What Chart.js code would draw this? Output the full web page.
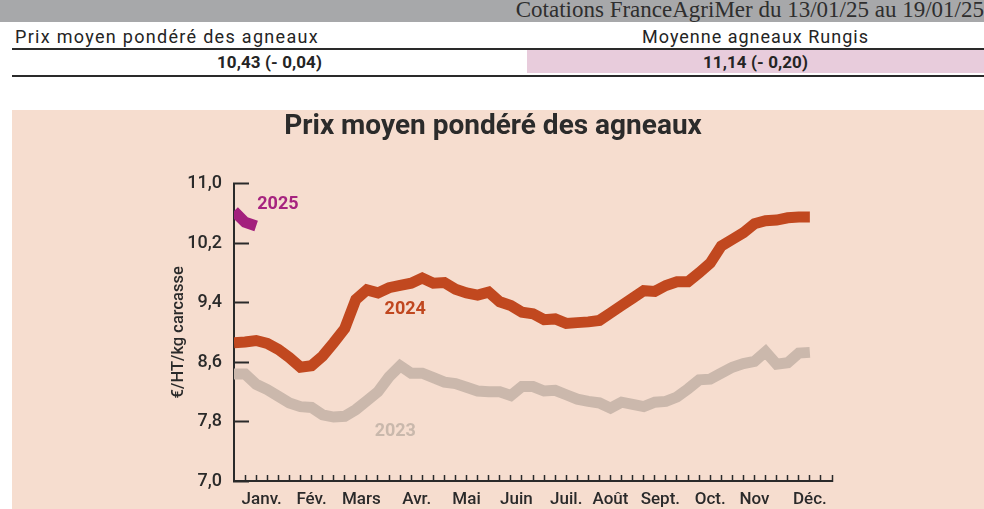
<!DOCTYPE html>
<html lang="fr">
<head>
<meta charset="utf-8">
<title>Prix moyen pondéré des agneaux</title>
<script src="https://cdn.jsdelivr.net/npm/chart.js@4.4.1/dist/chart.umd.min.js"></script>
<style>
  body { margin: 0; width: 984px; height: 509px; position: relative; overflow: hidden; background: #fff; font-family: Roboto, sans-serif; color: #242424; }
  .abs { position: absolute; }
  #bar { left: 0; top: 0; width: 984px; height: 22px; background: #a7a8aa; }
  #bar span { position: absolute; right: 0; top: -2px; font-family: "Liberation Serif", serif; font-size: 23px; line-height: 24px; color: #2e2e2e; white-space: nowrap; }
  .row { font-size: 18px; letter-spacing: 1.3px; white-space: nowrap; line-height: 22px; }
  .row.bold { font-weight: bold; letter-spacing: 0.1px; font-size: 17px; }
  .rule { left: 12px; width: 972px; background: #2a2a2a; }
  #panel { left: 12px; top: 110px; width: 972px; height: 399px; background: #f6ddcf; }
</style>
</head>
<body>
<div id="bar" class="abs"><span>Cotations FranceAgriMer du 13/01/25 au 19/01/25</span></div>
<div class="abs row" style="left:15px; top:26px;">Prix moyen pondéré des agneaux</div>
<div class="abs row" style="left:527px; width:457px; top:26px; text-align:center; letter-spacing:1px;">Moyenne agneaux Rungis</div>
<div class="abs rule" style="top:48px; height:1.5px;"></div>
<div class="abs" style="left:527px; top:50px; width:457px; height:23px; background:#e8ccdc;"></div>
<div class="abs row bold" style="left:12px; width:515px; top:51px; text-align:center;">10,43 (- 0,04)</div>
<div class="abs row bold" style="left:527px; width:457px; top:51px; text-align:center;">11,14 (- 0,20)</div>
<div class="abs rule" style="top:75px; height:2px;"></div>
<div id="panel" class="abs"><canvas id="graphCanvas" width="972" height="399"></canvas></div>

<script>
// Prix hebdomadaires (€/HT/kg carcasse), semaine 1 = index 0
const prix2023 = [8.44, 8.44, 8.30, 8.23, 8.14, 8.05, 8.00, 7.99, 7.89, 7.86, 7.87, 7.96, 8.08, 8.20,
  8.40, 8.55, 8.45, 8.45, 8.39, 8.33, 8.31, 8.26, 8.21, 8.20, 8.20, 8.15, 8.27, 8.27, 8.21, 8.22,
  8.16, 8.10, 8.07, 8.05, 7.98, 8.06, 8.03, 8.00, 8.06, 8.07, 8.13, 8.24, 8.36, 8.37, 8.45, 8.53,
  8.58, 8.61, 8.74, 8.57, 8.59, 8.72, 8.73];
const prix2024 = [8.86, 8.87, 8.89, 8.85, 8.77, 8.66, 8.53, 8.55, 8.68, 8.86, 9.05, 9.44, 9.57, 9.53,
  9.60, 9.63, 9.66, 9.73, 9.66, 9.67, 9.58, 9.53, 9.50, 9.54, 9.41, 9.36, 9.27, 9.25, 9.17, 9.18,
  9.12, 9.13, 9.14, 9.16, 9.26, 9.36, 9.46, 9.56, 9.55, 9.63, 9.68, 9.68, 9.80, 9.93, 10.16, 10.25,
  10.34, 10.46, 10.50, 10.51, 10.54, 10.55, 10.55];
const prix2025 = [10.63, 10.48, 10.43];

const moisLabels = ['Janv.', 'Fév.', 'Mars', 'Avr.', 'Mai', 'Juin', 'Juil.', 'Août', 'Sept.', 'Oct.', 'Nov', 'Déc.'];
const moisSemaine = [2.5, 7, 11.5, 16.5, 21, 25.5, 30, 34, 38.5, 43, 47, 52];
const yTicks = [7.0, 7.8, 8.6, 9.4, 10.2, 11.0];
const nbSemaines = 54;

// étiquettes des années, en unités du graphique (semaine, prix)
const anneeLabels = [
  { text: '2025', x: 2.1, y: 10.72, color: '#a6237f' },
  { text: '2024', x: 13.6, y: 9.30, color: '#c0471f' },
  { text: '2023', x: 12.7, y: 7.66, color: '#c9b8ac' }
];

const FONT = 'Roboto, sans-serif';
const DARK = '#2a2a2a';

function toPoints(values) {
  return values.map((v, i) => ({ x: i, y: v }));
}

const anneePlugin = {
  id: 'anneeLabels',
  afterDatasetsDraw(chart) {
    const { ctx, scales } = chart;
    ctx.save();
    ctx.font = 'bold 18px ' + FONT;
    ctx.textBaseline = 'middle';
    ctx.textAlign = 'left';
    anneeLabels.forEach(l => {
      ctx.fillStyle = l.color;
      ctx.fillText(l.text, scales.x.getPixelForValue(l.x), scales.y.getPixelForValue(l.y));
    });
    ctx.restore();
  }
};

const ctx = document.getElementById('graphCanvas').getContext('2d');
const chart = new Chart(ctx, {
  type: 'line',
  data: {
    datasets: [
      { label: '2025', data: toPoints(prix2025), borderColor: '#a3207d' },
      { label: '2024', data: toPoints(prix2024), borderColor: '#c1481f' },
      { label: '2023', data: toPoints(prix2023), borderColor: '#cbb8ac' }
    ]
  },
  options: {
    responsive: false,
    devicePixelRatio: 1,
    animation: false,
    layout: { padding: { left: 0, right: 10, top: 0, bottom: 0 } },
    elements: {
      line: { borderWidth: 11, tension: 0, borderCapStyle: 'butt', borderJoinStyle: 'miter', fill: false },
      point: { radius: 0, hoverRadius: 0 }
    },
    plugins: {
      legend: { display: false },
      tooltip: { enabled: false },
      title: {
        display: true,
        text: 'Prix moyen pondéré des agneaux',
        color: '#2b2b2b',
        font: { family: FONT, size: 28, weight: 'bold' },
        padding: { top: 0, bottom: 40 }
      }
    },
    scales: {
      x: {
        type: 'linear',
        min: 0,
        max: nbSemaines,
        afterBuildTicks: (scale) => {
          const ticks = [];
          for (let i = 0; i <= nbSemaines * 2; i++) ticks.push({ value: i / 2 });
          scale.ticks = ticks;
        },
        afterFit: (scale) => { scale.height = 28; scale.paddingLeft = 0; scale.paddingRight = 0; },
        grid: {
          drawOnChartArea: false,
          tickLength: -6,
          tickWidth: 1.5,
          tickColor: (c) => (Number.isInteger(c.tick.value) && c.tick.value > 0) ? DARK : 'rgba(0,0,0,0)'
        },
        border: { display: true, color: DARK, width: 2 },
        ticks: {
          autoSkip: false,
          maxRotation: 0,
          minRotation: 0,
          padding: 15,
          color: DARK,
          font: { family: FONT, size: 17, weight: '500' },
          callback: (value) => {
            const k = moisSemaine.indexOf(value);
            return k >= 0 ? moisLabels[k] : '';
          }
        }
      },
      y: {
        min: 7,
        max: 11,
        afterBuildTicks: (scale) => { scale.ticks = yTicks.map(v => ({ value: v })); },
        afterFit: (scale) => { scale.width = 222; scale.paddingTop = 0; scale.paddingBottom = 0; },
        grid: {
          drawOnChartArea: false,
          tickLength: -15,
          tickWidth: 2,
          tickColor: DARK
        },
        border: { display: true, color: DARK, width: 2 },
        ticks: {
          padding: 27,
          color: DARK,
          font: { family: FONT, size: 18, weight: '500' },
          callback: (value) => value.toFixed(1).replace('.', ',')
        },
        title: {
          display: true,
          text: '€/HT/kg carcasse',
          color: DARK,
          font: { family: FONT, size: 16.5, weight: '500' },
          padding: { top: 157, bottom: 0 }
        }
      },
      // marge droite vide, pour que le titre reste centré sur tout le panneau
      marge: {
        type: 'linear',
        position: 'right',
        display: true,
        grid: { display: false },
        border: { display: false },
        ticks: { display: false },
        afterFit: (scale) => { scale.width = 142; scale.paddingTop = 0; scale.paddingBottom = 0; }
      }
    }
  },
  plugins: [anneePlugin]
});
</script>
</body>
</html>
